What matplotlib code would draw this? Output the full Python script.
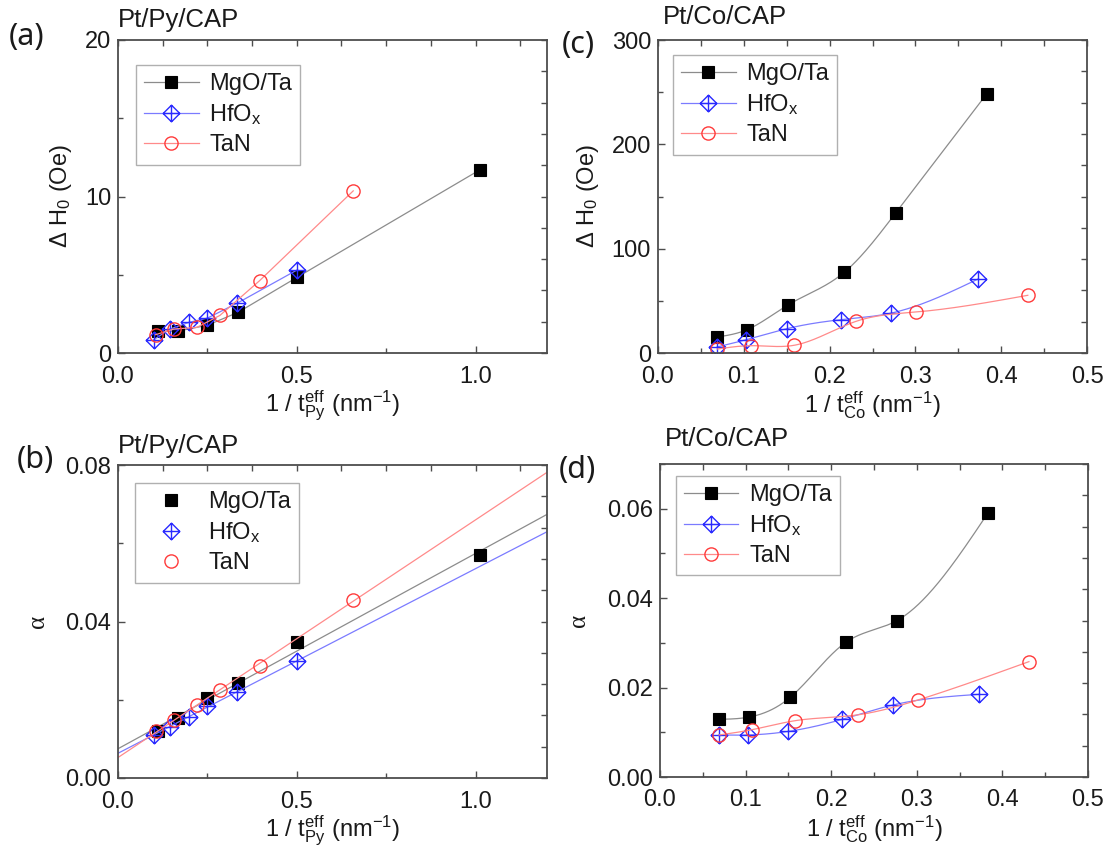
import numpy as np
import matplotlib
matplotlib.use("Agg")
import matplotlib.pyplot as plt
from matplotlib.path import Path
from matplotlib.ticker import MultipleLocator, FixedLocator, NullFormatter

plt.rcParams['font.family'] = ['Liberation Sans', 'DejaVu Sans']
plt.rcParams['mathtext.fontset'] = 'custom'
plt.rcParams['mathtext.rm'] = 'Liberation Sans'
plt.rcParams['mathtext.it'] = 'Liberation Sans'
plt.rcParams['mathtext.default'] = 'regular'

# ---------------- data ----------------
labels = ["MgO/Ta", "HfO$_x$", "TaN"]

# Pt/Py/CAP : inverse effective Py thickness (nm^-1)
py_x_mgo = [0.112, 0.167, 0.250, 0.336, 0.502, 1.012]
py_x_hfo = [0.100, 0.145, 0.199, 0.250, 0.334, 0.502]
py_x_tan = [0.105, 0.156, 0.221, 0.285, 0.396, 0.658]

# (a) inhomogeneous linewidth, Oe
py_dh_mgo = [1.38, 1.40, 1.77, 2.60, 4.85, 11.7]
py_dh_hfo = [0.85, 1.53, 1.96, 2.23, 3.19, 5.32]
py_dh_tan = [1.17, 1.53, 1.64, 2.40, 4.62, 10.36]

# (b) damping
py_a_mgo = [0.0119, 0.0153, 0.0204, 0.0243, 0.0347, 0.0570]
py_a_hfo = [0.0111, 0.0130, 0.0157, 0.0183, 0.0220, 0.0300]
py_a_tan = [0.0119, 0.0147, 0.0186, 0.0226, 0.0287, 0.0455]

# Pt/Co/CAP : inverse effective Co thickness (nm^-1)
co_x_mgo = [0.069, 0.104, 0.152, 0.217, 0.277, 0.383]
co_x_hfo = [0.069, 0.103, 0.150, 0.213, 0.272, 0.373]
co_x_tan = [0.069, 0.108, 0.158, 0.231, 0.301, 0.431]

# (c) inhomogeneous linewidth, Oe
co_dh_mgo = [15.3, 22.4, 46.3, 77.3, 134.2, 248.2]
co_dh_hfo = [5.8, 12.8, 23.3, 31.9, 38.3, 70.9]
co_dh_tan = [3.8, 7.0, 7.3, 30.4, 39.3, 55.3]

# (d) damping
co_a_mgo = [0.0129, 0.0134, 0.0178, 0.0301, 0.0350, 0.0590]
co_a_hfo = [0.0094, 0.0094, 0.0102, 0.0129, 0.0161, 0.0185]
co_a_tan = [0.0094, 0.0106, 0.0126, 0.0139, 0.0172, 0.0258]

# ---------------- styles ----------------
W, H = 1111, 849
diamond_plus = Path(
    [(0, 1), (1, 0), (0, -1), (-1, 0), (0, 1), (0, 1), (0, -1), (-1, 0), (1, 0)],
    [Path.MOVETO, Path.LINETO, Path.LINETO, Path.LINETO, Path.CLOSEPOLY,
     Path.MOVETO, Path.LINETO, Path.MOVETO, Path.LINETO])

styles = [
    dict(color='#8c8c8c', marker='s', markersize=8.5, markerfacecolor='black',
         markeredgecolor='black', markeredgewidth=0.8),
    dict(color='#7b7bff', marker=diamond_plus, markersize=12, markerfacecolor='none',
         markeredgecolor='#2a2aff', markeredgewidth=1.0),
    dict(color='#ff8a8a', marker='o', markersize=9.5, markerfacecolor='none',
         markeredgecolor='#ff3b3b', markeredgewidth=1.0),
]
SPINE = '#4d4d4d'
TXT = '#1a1a1a'
TICK_FS = 17
LABEL_FS = 17
TITLE_FS = 18.5


def natural_spline(x, y, n=300):
    x = np.asarray(x, float)
    y = np.asarray(y, float)
    N = len(x)
    h = np.diff(x)
    A = np.zeros((N, N))
    r = np.zeros(N)
    A[0, 0] = A[-1, -1] = 1.0
    for i in range(1, N - 1):
        A[i, i - 1] = h[i - 1]
        A[i, i] = 2 * (h[i - 1] + h[i])
        A[i, i + 1] = h[i]
        r[i] = 6 * ((y[i + 1] - y[i]) / h[i] - (y[i] - y[i - 1]) / h[i - 1])
    M = np.linalg.solve(A, r)
    xs = np.linspace(x[0], x[-1], n)
    k = np.clip(np.searchsorted(x, xs) - 1, 0, N - 2)
    hk = h[k]
    a = x[k + 1] - xs
    b = xs - x[k]
    ys = (M[k] * a ** 3 + M[k + 1] * b ** 3) / (6 * hk) \
        + (y[k] / hk - M[k] * hk / 6) * a + (y[k + 1] / hk - M[k + 1] * hk / 6) * b
    return xs, ys


fig = plt.figure(figsize=(W / 100, H / 100), dpi=100)


def make_axes(l, r, t, b):
    return fig.add_axes([l / W, 1 - b / H, (r - l) / W, (b - t) / H])


def style_axes(ax, xlim, ylim, xmaj, xmin, ymaj, ymin, top_step, yfmt):
    ax.set_xlim(*xlim)
    ax.set_ylim(*ylim)
    ax.xaxis.set_major_locator(MultipleLocator(xmaj))
    ax.xaxis.set_minor_locator(MultipleLocator(xmin))
    ax.yaxis.set_major_locator(MultipleLocator(ymaj))
    ax.yaxis.set_minor_locator(MultipleLocator(ymin))
    ax.yaxis.set_major_formatter(yfmt)
    ax.xaxis.set_major_formatter(plt.FuncFormatter(lambda v, p: f"{v:.1f}"))
    for s in ax.spines.values():
        s.set_color(SPINE)
        s.set_linewidth(1.3)
    ax.tick_params(which='both', direction='in', color=SPINE, width=1.0,
                   top=False, right=False, labelsize=TICK_FS, labelcolor=TXT)
    ax.tick_params(which='major', length=5)
    ax.tick_params(which='minor', length=3.5)
    ax.tick_params(axis='x', which='major', pad=9)
    ax.tick_params(axis='y', which='major', pad=5)
    sx = ax.secondary_xaxis('top')
    sx.xaxis.set_major_locator(FixedLocator(np.arange(0, xlim[1] + 1e-9, top_step)))
    sx.xaxis.set_major_formatter(NullFormatter())
    sx.tick_params(direction='in', length=4.5, width=1.0, color=SPINE)
    sx.spines['top'].set_visible(False)
    sy = ax.secondary_yaxis('right')
    sy.yaxis.set_major_locator(FixedLocator(np.linspace(ylim[0], ylim[1], 11)))
    sy.yaxis.set_major_formatter(NullFormatter())
    sy.tick_params(direction='in', length=4.5, width=1.0, color=SPINE)
    sy.spines['right'].set_visible(False)


def add_legend(ax, anchor):
    leg = ax.legend(loc='upper left', bbox_to_anchor=anchor, borderaxespad=0,
                    fontsize=17, frameon=True, fancybox=False, framealpha=1,
                    edgecolor='#b0b0b0', handlelength=2.3, handletextpad=0.45,
                    borderpad=0.35, labelspacing=0.3, numpoints=1)
    leg.get_frame().set_linewidth(1.0)
    for t in leg.get_texts():
        t.set_color(TXT)
    return leg


def fmt_plain(v, pos):
    return f"{v:g}"


def fmt_2dec(v, pos):
    return f"{v:.2f}"


xlab_py = "1 / t$_{Py}^{eff}$ (nm$^{-1}$)"
xlab_co = "1 / t$_{Co}^{eff}$ (nm$^{-1}$)"
ylab_dh = "Δ H$_0$ (Oe)"
SERIF = ['Liberation Serif', 'DejaVu Serif']

# ---------------- (a) ----------------
ax = make_axes(118, 547, 40, 353)
for xs, ys, st, lb in zip([py_x_mgo, py_x_hfo, py_x_tan],
                          [py_dh_mgo, py_dh_hfo, py_dh_tan], styles, labels):
    ax.plot(xs, ys, lw=0.9, label=lb, **st)
style_axes(ax, (0, 1.2), (0, 20), 0.5, 0.25, 10, 5, 0.125,
           plt.FuncFormatter(fmt_plain))
add_legend(ax, (0.042, 0.92))
ax.set_xlabel(xlab_py, fontsize=LABEL_FS, color=TXT, labelpad=1)
ax.set_ylabel(ylab_dh, fontsize=LABEL_FS, color=TXT, labelpad=8)
ax.text(0, 1.025, "Pt/Py/CAP", transform=ax.transAxes, fontsize=TITLE_FS,
        color=TXT, ha='left', va='bottom')

# ---------------- (b) ----------------
ax = make_axes(118, 547, 465, 778)
xfit = np.array([0.0, 1.2])
for xs, ys, st, lb in zip([py_x_mgo, py_x_hfo, py_x_tan],
                          [py_a_mgo, py_a_hfo, py_a_tan], styles, labels):
    p = np.polyfit(xs, ys, 1)
    ax.plot(xfit, np.polyval(p, xfit), color=st['color'], lw=0.9)
    ax.plot(xs, ys, ls='none', label=lb,
            **{k: v for k, v in st.items() if k != 'color'})
style_axes(ax, (0, 1.2), (0, 0.08), 0.5, 0.25, 0.04, 0.02, 0.125,
           plt.FuncFormatter(fmt_2dec))
add_legend(ax, (0.040, 0.942))
ax.set_xlabel(xlab_py, fontsize=LABEL_FS, color=TXT, labelpad=1)
ax.set_ylabel("α", fontsize=18, color=TXT, labelpad=12, family=SERIF)
ax.text(0, 1.022, "Pt/Py/CAP", transform=ax.transAxes, fontsize=TITLE_FS,
        color=TXT, ha='left', va='bottom')

# ---------------- (c) ----------------
ax = make_axes(658, 1087, 40, 353)
for xs, ys, st, lb in zip([co_x_mgo, co_x_hfo, co_x_tan],
                          [co_dh_mgo, co_dh_hfo, co_dh_tan], styles, labels):
    sx, sy = natural_spline(xs, ys)
    ax.plot(sx, sy, color=st['color'], lw=0.9)
    ax.plot(xs, ys, ls='none', **{k: v for k, v in st.items() if k != 'color'})
    ax.plot([], [], lw=0.9, label=lb, **st)
style_axes(ax, (0, 0.5), (0, 300), 0.1, 0.05, 100, 50, 0.05,
           plt.FuncFormatter(fmt_plain))
add_legend(ax, (0.035, 0.952))
ax.set_xlabel(xlab_co, fontsize=LABEL_FS, color=TXT, labelpad=1)
ax.set_ylabel(ylab_dh, fontsize=LABEL_FS, color=TXT, labelpad=8)
ax.text(0.012, 1.035, "Pt/Co/CAP", transform=ax.transAxes, fontsize=TITLE_FS,
        color=TXT, ha='left', va='bottom')

# ---------------- (d) ----------------
ax = make_axes(660, 1088, 464, 777)
for xs, ys, st, lb in zip([co_x_mgo, co_x_hfo, co_x_tan],
                          [co_a_mgo, co_a_hfo, co_a_tan], styles, labels):
    sx, sy = natural_spline(xs, ys)
    ax.plot(sx, sy, color=st['color'], lw=0.9)
    ax.plot(xs, ys, ls='none', **{k: v for k, v in st.items() if k != 'color'})
    ax.plot([], [], lw=0.9, label=lb, **st)
style_axes(ax, (0, 0.5), (0, 0.07), 0.1, 0.05, 0.02, 0.01, 0.05,
           plt.FuncFormatter(fmt_2dec))
add_legend(ax, (0.037, 0.962))
ax.set_xlabel(xlab_co, fontsize=LABEL_FS, color=TXT, labelpad=1)
ax.set_ylabel("α", fontsize=18, color=TXT, labelpad=12, family=SERIF)
ax.text(0.012, 1.04, "Pt/Co/CAP", transform=ax.transAxes, fontsize=TITLE_FS,
        color=TXT, ha='left', va='bottom')

# ---------------- panel letters ----------------
for lab, (px, py) in zip(["(a)", "(b)", "(c)", "(d)"],
                         [(27, 37), (35, 460), (578, 45), (577, 470)]):
    fig.text(px / W, 1 - py / H, lab, fontsize=22, color=TXT,
             family=['Noto Sans', 'DejaVu Sans'], ha='center', va='center')

fig.savefig("out.png", dpi=100, facecolor='white')
